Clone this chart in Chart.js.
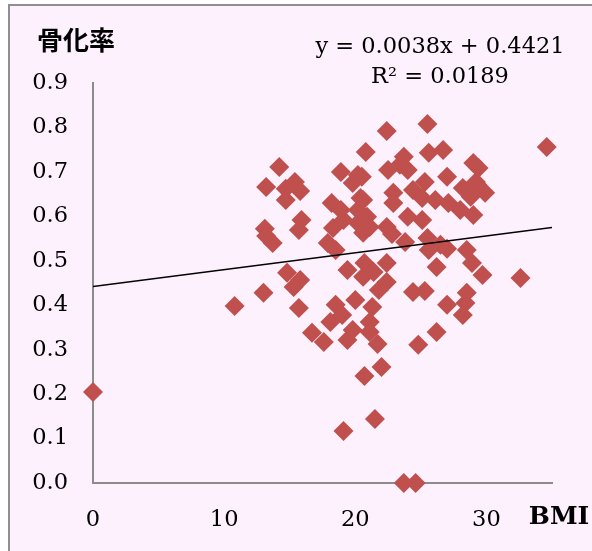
<!DOCTYPE html>
<html>
<head>
<meta charset="utf-8">
<script src="https://cdn.jsdelivr.net/npm/chart.js@4.4.1/dist/chart.umd.min.js"></script>
<style>
  body { margin: 0; background: #fff; width: 592px; height: 551px; overflow: hidden; position: relative; }
  #frame { position: absolute; left: 8px; top: 4px; width: 600px; height: 560px; background: #fdf1fd;
           border-left: 2px solid #8f8f8f; border-top: 2px solid #8f8f8f; }
  #chart { position: absolute; left: 0; top: 0; }
</style>
</head>
<body>
<div id="frame"></div>
<canvas id="chart" width="592" height="551"></canvas>
<script>
// BMI vs 骨化率
const bmi = [
  0, 10.8, 13.0, 13.1, 13.2, 13.7, 14.2, 13.2, 14.7, 15.4, 15.8, 14.7, 15.9, 15.7, 14.8, 15.8, 15.3, 15.7,
  18.9, 20.2, 19.8, 20.8, 18.2, 18.9, 19.1, 18.3, 20.4, 20.2, 20.2, 20.6, 17.9, 18.5, 19.4, 20.7, 20.6, 20.0,
  18.5, 19.0, 18.1, 16.7, 17.6, 19.4, 19.8, 20.7, 22.0, 21.5, 19.1, 20.5, 20.6, 20.9, 21.1,
  21.4, 22.4, 22.4, 21.8, 21.3, 21.1, 21.1, 21.7, 22.4, 23.7, 23.4, 22.5, 24.0, 22.9, 22.9, 24.4, 22.4, 24.0,
  22.8, 23.8, 23.7, 24.6,
  25.5, 25.6, 26.7, 25.3, 27.0, 25.1, 26.1, 27.1, 25.1, 25.5, 26.5, 25.6, 27.0, 26.2, 24.4, 25.3, 27.0, 26.2, 24.8,
  29.0, 29.4, 29.2, 28.2, 29.9, 28.8, 28.0, 29.0, 28.5, 28.9, 29.7, 32.6, 28.5, 28.4, 28.2, 34.6, 29.3
];
const rate = [
  0.205, 0.398, 0.428, 0.572, 0.556, 0.540, 0.711, 0.666, 0.662, 0.677, 0.657, 0.637, 0.592, 0.569, 0.473, 0.457, 0.441, 0.394,
  0.700, 0.693, 0.675, 0.745, 0.630, 0.614, 0.592, 0.574, 0.641, 0.614, 0.585, 0.563, 0.540, 0.524, 0.479, 0.495, 0.464, 0.412,
  0.401, 0.378, 0.362, 0.338, 0.317, 0.322, 0.344, 0.241, 0.261, 0.144, 0.117, 0.689, 0.637, 0.599, 0.576,
  0.475, 0.495, 0.452, 0.434, 0.396, 0.362, 0.340, 0.313, 0.792, 0.734, 0.716, 0.704, 0.704, 0.653, 0.630, 0.659, 0.576, 0.599,
  0.560, 0.542, 0.0, 0.0,
  0.808, 0.743, 0.749, 0.677, 0.689, 0.641, 0.637, 0.630, 0.592, 0.551, 0.536, 0.524, 0.527, 0.486, 0.430, 0.432, 0.401, 0.340, 0.311,
  0.720, 0.709, 0.677, 0.664, 0.653, 0.644, 0.614, 0.603, 0.524, 0.495, 0.468, 0.461, 0.428, 0.405, 0.378, 0.756, 0.671
];

// linear trendline from the picture
const slope = 0.0038;
const intercept = 0.4421;
const trendX = [0, 35];

const xTicks = [0, 10, 20, 30];
const yTicks = [0, 0.1, 0.2, 0.3, 0.4, 0.5, 0.6, 0.7, 0.8, 0.9];

const yTitle = '骨化率';
const xTitle = 'BMI';
const eqText = 'y = 0.0038x + 0.4421';
const r2Text = 'R² = 0.0189';

const serif = '"DejaVu Serif", serif';

const textPlugin = {
  id: 'textPlugin',
  afterDraw(chart) {
    const ctx = chart.ctx;
    const a = chart.chartArea;
    ctx.save();
    ctx.fillStyle = '#000';
    ctx.textAlign = 'center';
    ctx.textBaseline = 'middle';
    ctx.font = 'bold 26px "Noto Sans CJK JP"';
    ctx.fillText(yTitle, a.left - 17, a.top - 43);
    ctx.font = 'bold 25px ' + serif;
    ctx.fillText(xTitle, a.right + 7, a.bottom + 34);
    ctx.font = '22.5px ' + serif;
    ctx.fillText(eqText, 440, 47);
    ctx.fillText(r2Text, 440, 77);
    ctx.restore();
  }
};

const points = bmi.map((x, i) => ({ x: x, y: rate[i] }));
const trend = trendX.map(x => ({ x: x, y: slope * x + intercept }));

new Chart(document.getElementById('chart'), {
  type: 'scatter',
  data: {
    datasets: [
      {
        type: 'line',
        data: trend,
        borderColor: '#000',
        borderWidth: 1.5,
        pointRadius: 0,
        fill: false
      },
      {
        data: points,
        pointStyle: 'rectRot',
        pointRadius: 10,
        pointBorderWidth: 0,
        backgroundColor: '#c0504d',
        borderColor: '#c0504d',
        clip: false
      }
    ]
  },
  options: {
    responsive: false,
    animation: false,
    layout: { padding: { top: 83, right: 40, left: 0, bottom: 0 } },
    plugins: { legend: { display: false }, tooltip: { enabled: false } },
    scales: {
      x: {
        type: 'linear',
        min: 0,
        max: 35,
        grid: { display: false, drawTicks: false },
        border: { display: true, color: '#8c8c8c', width: 2 },
        afterBuildTicks: s => { s.ticks = xTicks.map(v => ({ value: v })); },
        afterFit: s => { s.height = 68; },
        ticks: { color: '#000', padding: 24, autoSkip: false, maxRotation: 0,
                 font: { family: serif, size: 22.5 } }
      },
      y: {
        type: 'linear',
        min: 0,
        max: 0.9,
        grid: { display: false, drawTicks: false },
        border: { display: true, color: '#8c8c8c', width: 2 },
        afterBuildTicks: s => { s.ticks = yTicks.map(v => ({ value: v })); },
        afterFit: s => { s.width = 93; },
        ticks: { color: '#000', padding: 25, autoSkip: false,
                 callback: v => v.toFixed(1),
                 font: { family: serif, size: 22.5 } }
      }
    }
  },
  plugins: [textPlugin]
});
</script>
</body>
</html>
